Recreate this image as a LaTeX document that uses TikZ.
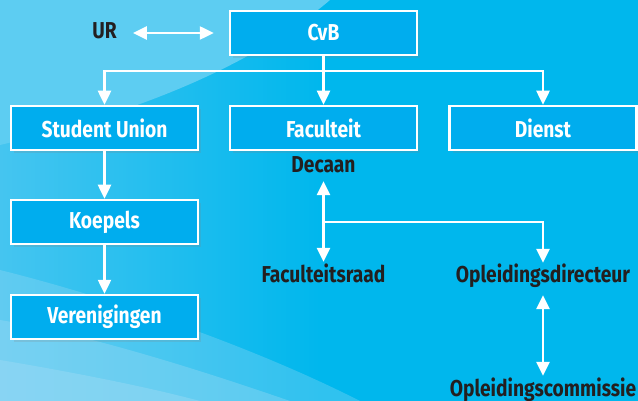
\documentclass[tikz,border=0pt]{standalone}
\usepackage{fontspec}
\setmainfont{Fira Sans}[FakeStretch=0.835]
\usepackage{tikz}
\usetikzlibrary{arrows.meta,positioning,shadows}

\definecolor{bgcyan}{HTML}{00B7ED}
\definecolor{bgside}{HTML}{45C5F0}
\definecolor{bglight}{HTML}{5DCDF2}
\definecolor{bgpale}{HTML}{A2DCF5}
\definecolor{boxcyan}{HTML}{00ADEE}
\definecolor{inkdark}{HTML}{231F20}

\tikzset{
  orgbox/.style={draw=white, line width=2.5pt, fill=boxcyan, text=white,
    minimum width=187pt, minimum height=44pt, inner sep=0pt,
    font=\fontsize{23}{27}\selectfont\bfseries,
    drop shadow={opacity=0.2, shadow xshift=3pt, shadow yshift=-3pt}},
  orglabel/.style={text=inkdark, inner sep=0pt, text height=14pt, text depth=4pt,
    font=\fontsize{23}{27}\selectfont\bfseries},
  link/.style={draw=white, line width=2.5pt, -{Triangle[width=13pt,length=14pt]}},
  duallink/.style={link, {Triangle[width=13pt,length=14pt]}-{Triangle[width=13pt,length=14pt]}}
}

\begin{document}
\begin{tikzpicture}[x=1pt,y=-1pt]
        \useasboundingbox (0,0) rectangle (638,401);
        % background
        \fill[bgcyan] (0,0) rectangle (638,401);
        \shade[left color=bgside, right color=bgcyan] (0,0) rectangle (320,401);
        \fill[bglight] (0,0) -- (330,0) .. controls (260,60) and (150,110) .. (0,145) -- cycle;
        \fill[bgpale, opacity=0.3] (0,401) -- (0,270) .. controls (120,300) and (260,350) .. (360,401) -- cycle;
        \fill[bgpale, opacity=0.35] (0,401) -- (0,320) .. controls (90,335) and (200,370) .. (290,401) -- cycle;
        \fill[bgpale, opacity=0.4] (0,401) -- (0,360) .. controls (60,370) and (140,385) .. (200,401) -- cycle;

        \node[orgbox] (CvB) at (323.5,33) {CvB};
        \node[orgbox] (SU) at ([shift={+(-219,95)}]CvB) {Student Union};
        \node[orgbox] (Fac) at ([shift={+(0,95)}]CvB) {Faculteit};
        \node[orgbox] (Dienst) at ([shift={+(219.5,95)}]CvB) {Dienst};
        \node[orgbox] (Koep) at ([shift={+(0,94)}]SU) {Koepels};
        \node[orgbox] (Ver) at ([shift={+(0,95)}]Koep) {Verenigingen};

        \node[orglabel] (UR) at (104.5,34) {UR};
        \node[orglabel] (Dec) at (323.5,168) {Decaan};
        \node[orglabel] (FR) at (323.5,278) {Faculteitsraad};
        \node[orglabel] (OD) at (543,278) {Opleidingsdirecteur};
        \node[orglabel] (OC) at (543,391) {Opleidingscommissie};
        \coordinate (split) at (323.5,222);

        \draw[duallink, shorten <=16pt, shorten >=15pt] (UR.east |- CvB) -- (CvB.west);
        \draw[link] (CvB.south) -- ++(0,15) -| (SU.north);
        \draw[link] (CvB.south) -- (Fac.north);
        \draw[link] (CvB.south) -- ++(0,15) -| (Dienst.north);
        \draw[link] (SU) -- (Koep);
        \draw[link] (Koep) -- (Ver);
        \draw[duallink, shorten <=4pt, shorten >=7pt] (Dec.south) -- (FR.north);
        \draw[link, shorten >=6pt] (split) -| (OD.north);
        \draw[duallink, shorten <=8pt, shorten >=6pt] (OD.south) -- (OC.north);
    \end{tikzpicture}
\end{document}
